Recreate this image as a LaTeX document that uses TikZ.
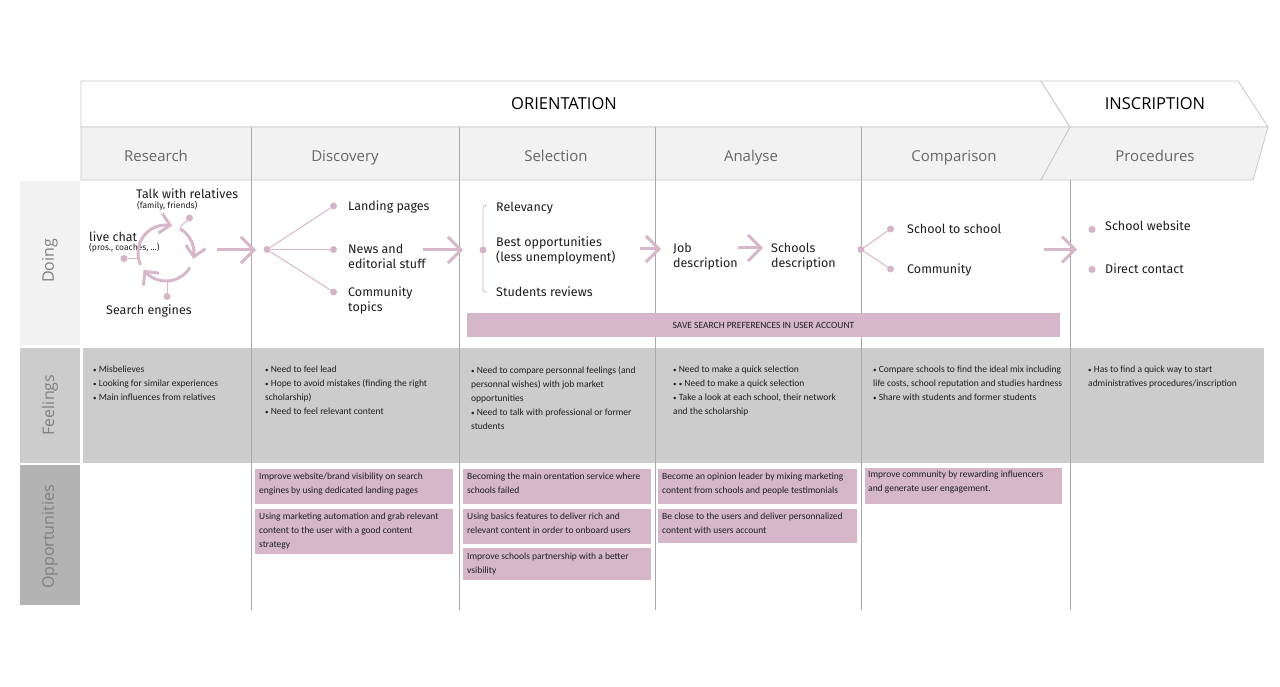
\documentclass[tikz,border=0pt]{standalone}
\usepackage{fontspec}
\setmainfont{Open Sans}
\newfontfamily\firafont{Fira Sans}
\newfontfamily\carlfont{Carlito}
\usetikzlibrary{arrows.meta}

\definecolor{pk}{HTML}{D7B8CB}
\definecolor{pkbox}{HTML}{D6B7CA}
\definecolor{pkdot}{HTML}{D4B4C8}
\definecolor{hdrfill}{HTML}{F2F2F2}
\definecolor{feelfill}{HTML}{CCCCCC}
\definecolor{oppfill}{HTML}{B3B3B3}
\definecolor{vline}{HTML}{A8A8A8}
\definecolor{hborder}{HTML}{C8C8C8}
\definecolor{lbltext}{HTML}{7F7F7F}
\definecolor{hdrtext}{HTML}{666666}
\definecolor{bodytext}{HTML}{1E1E1E}

\newcommand\feelbul{{\fontsize{7}{7}\selectfont •}}

\tikzset{
 hborderline/.style={draw=hborder, line width=0.8pt},
 hdrlabel/.style={font=\fontsize{15}{18}\selectfont, text=hdrtext, inner sep=0, anchor=base},
 toplabel/.style={font=\fontsize{16.5}{19}\selectfont, text=black, inner sep=0},
 rowlabel/.style={font=\fontsize{16}{19}\selectfont, text=lbltext, inner sep=0, rotate=90},
 doingtext/.style={font=\firafont\fontsize{12.5}{15}\selectfont, text=bodytext, inner sep=0, anchor=west, align=left},
 smalltext/.style={font=\firafont\fontsize{8.5}{9}\selectfont, text=bodytext, inner sep=0, anchor=west},
 feeltext/.style={font=\carlfont\fontsize{9.5}{14}\selectfont, text=bodytext, inner sep=0, anchor=north west, align=left},
 oppbox/.style={fill=pkbox, inner sep=0, anchor=north west},
 pdot/.style={circle, fill=pkdot, inner sep=0, minimum size=7pt},
 thinlink/.style={draw=pk, line width=1pt},
 bigarrow/.style={draw=pk, line width=3pt, -{Straight Barb[length=13pt, width=26pt]}},
 cyclearrow/.style={draw=pk, line width=3pt, -{Straight Barb[length=10pt, width=20pt]}},
 colline/.style={draw=vline, line width=0.8pt},
}

\begin{document}
\begin{tikzpicture}[x=1pt,y=-1pt]
\useasboundingbox (0,0) rectangle (1280,687);
\fill[white] (0,0) rectangle (1280,687);

% ---------- header ----------
\draw[hborderline, fill=white] (81,81) -- (1041,81) -- (1070,127) -- (81,127) -- cycle;
\draw[hborderline, fill=white] (1041,81) -- (1238,81) -- (1268,127) -- (1070,127) -- cycle;
\draw[hborderline, fill=hdrfill] (81,127) -- (1070,127) -- (1041,180) -- (81,180) -- cycle;
\draw[hborderline, fill=hdrfill] (1070,127) -- (1268,127) -- (1253,180) -- (1041,180) -- cycle;
\foreach \xx in {251,459,655,861} \draw[colline, draw=hborder!85!black] (\xx,127) -- (\xx,180);

\node[toplabel] (orient) at (564,104) {ORIENTATION};
\node[toplabel] (inscr) at (1155,104) {INSCRIPTION};
\node[hdrlabel] (hres) at (156,161.5) {Research};
\node[hdrlabel] (hdis) at (345,161.5) {Discovery};
\node[hdrlabel] (hsel) at (556,161.5) {Selection};
\node[hdrlabel] (hana) at (751,161.5) {Analyse};
\node[hdrlabel] (hcmp) at (954,161.5) {Comparison};
\node[hdrlabel] (hpro) at (1155,161.5) {Procedures};

% ---------- row backgrounds ----------
\fill[hdrfill] (20,181) rectangle (80,345);
\fill[feelfill] (20,348) rectangle (80,463);
\fill[feelfill] (83,348) rectangle (1264,463);
\fill[oppfill] (20,465) rectangle (80,605);
\node[rowlabel] (ldoing) at (50,261) {Doing};
\node[rowlabel] (lfeel) at (50,405) {Feelings};
\node[rowlabel] (lopp) at (50,537) {Opportunities};

% column lines
\foreach \xx in {251,459,655,861,1070} \draw[colline] (\xx,180) -- (\xx,610);

% ---------- Doing: research ----------
\node[doingtext] (talk) at (136,194) {Talk with relatives};
\node[smalltext] (talks) at (137,205.5) {(family, friends)};
\node[doingtext] (live) at (89,237) {live chat};
\node[smalltext] (lives) at (89,248) {(pros., coaches, ...)};
\node[doingtext] (search) at (106,311) {Search engines};

\node[pdot] (dtalk) at (189.5,218) {};
\node[pdot] (dlive) at (124,258.5) {};
\node[pdot] (dsearch) at (167,296.5) {};
\coordinate (stalk) at (180,227);
\coordinate (slive) at (138,258.5);
\coordinate (ssearch) at (167,281);
\draw[thinlink] (dtalk) -- (stalk);
\draw[thinlink] (dlive) -- (slive);
\draw[thinlink] (dsearch) -- (ssearch);

\draw[cyclearrow] plot[domain=155:283, samples=40] ({166+28*cos(\x)},{253+28*sin(\x)});
\draw[cyclearrow] plot[domain=300:372, samples=30] ({166+28*cos(\x)},{253+28*sin(\x)});
\draw[cyclearrow] plot[domain=31:143, samples=40] ({166+28*cos(\x)},{253+28*sin(\x)});

\coordinate (a1s) at (217,250); \coordinate (a1e) at (256,250);
\draw[bigarrow] (a1s) -- (a1e);

% ---------- Doing: discovery ----------
\node[pdot] (dd0) at (267,249.5) {};
\node[pdot] (dd1) at (333.5,206) {};
\node[pdot] (dd2) at (333.5,249.5) {};
\node[pdot] (dd3) at (333.5,292) {};
\draw[thinlink] (dd0) -- (dd1);
\draw[thinlink] (dd0) -- (dd2);
\draw[thinlink] (dd0) -- (dd3);
\node[doingtext] (land) at (348,206.5) {Landing pages};
\node[doingtext] (news) at (348,256.5) {News and\\editorial stuff};
\node[doingtext] (comm) at (348,300) {Community\\topics};

\coordinate (a2s) at (423,250); \coordinate (a2e) at (463,250);
\draw[bigarrow] (a2s) -- (a2e);

% ---------- Doing: selection ----------
\draw[thinlink, line width=0.8pt] (487,205) .. controls (484,205) and (483,206) .. (483,209) -- (483,289) .. controls (483,292) and (484,292) .. (487,292);
\node[pdot] (sd0) at (483,250) {};
\node[doingtext] (relev) at (496,208.5) {Relevancy};
\node[doingtext] (best) at (496,250.5) {Best opportunities\\(less unemployment)};
\node[doingtext] (stud) at (496,292) {Students reviews};

\coordinate (a3s) at (640,249); \coordinate (a3e) at (661,249);
\draw[bigarrow] (a3s) -- (a3e);

% ---------- Doing: analyse ----------
\node[doingtext] (job) at (673,257) {Job\\description};
\coordinate (a4s) at (738,248); \coordinate (a4e) at (763,248);
\draw[bigarrow] (a4s) -- (a4e);
\node[doingtext] (schools) at (771,257) {Schools\\description};

% ---------- Doing: comparison ----------
\node[pdot] (cd0) at (861,249.5) {};
\node[pdot] (cd1) at (890.5,229) {};
\node[pdot] (cd2) at (890.5,269) {};
\draw[thinlink] (cd0) -- (cd1);
\draw[thinlink] (cd0) -- (cd2);
\node[doingtext] (s2s) at (907,228.5) {School to school};
\node[doingtext] (ccomm) at (907,270) {Community};

\coordinate (a5s) at (1044,249.5); \coordinate (a5e) at (1077,249.5);
\draw[bigarrow] (a5s) -- (a5e);

% ---------- Doing: procedures ----------
\node[pdot] (pd1) at (1092,229.5) {};
\node[pdot] (pd2) at (1092,269.5) {};
\node[doingtext] (sweb) at (1105,225.5) {School website};
\node[doingtext] (dcont) at (1105,268.5) {Direct contact};

% save box
\node[fill=pkbox, minimum width=593pt, minimum height=24pt, inner sep=0, font=\carlfont\fontsize{9.5}{10}\selectfont, text=bodytext] (save) at (763.5,325) {SAVE SEARCH PREFERENCES IN USER ACCOUNT};

% ---------- Feelings ----------
\node[feeltext] (f1) at (93,366) {\feelbul\ Misbelieves\\\feelbul\ Looking for similar experiences\\\feelbul\ Main influences from relatives};
\node[feeltext] (f2) at (265,366) {\feelbul\ Need to feel lead\\\feelbul\ Hope to avoid mistakes (finding the right\\scholarship)\\\feelbul\ Need to feel relevant content};
\node[feeltext] (f3) at (471,366) {\feelbul\ Need to compare personnal feelings (and\\personnal wishes) with job market\\opportunities\\\feelbul\ Need to talk with professional or former\\students};
\node[feeltext] (f4) at (673,366) {\feelbul\ Need to make a quick selection\\\feelbul\ \feelbul\ Need to make a quick selection\\\feelbul\ Take a look at each school, their network\\and the scholarship};
\node[feeltext] (f5) at (873,366) {\feelbul\ Compare schools to find the ideal mix including\\life costs, school reputation and studies hardness\\\feelbul\ Share with students and former students};
\node[feeltext] (f6) at (1088,366) {\feelbul\ Has to find a quick way to start\\administratives procedures/inscription};

% ---------- Opportunities ----------
\node[oppbox, minimum width=198pt, minimum height=35pt] (ob1) at (255,469) {};
\node[oppbox, minimum width=198pt, minimum height=45pt] (ob2) at (255,509) {};
\node[oppbox, minimum width=188pt, minimum height=35pt] (ob3) at (463,469) {};
\node[oppbox, minimum width=188pt, minimum height=35pt] (ob4) at (463,509) {};
\node[oppbox, minimum width=188pt, minimum height=32pt] (ob5) at (463,548) {};
\node[oppbox, minimum width=199pt, minimum height=35pt] (ob6) at (658,469) {};
\node[oppbox, minimum width=199pt, minimum height=34pt] (ob7) at (658,509) {};
\node[oppbox, minimum width=197pt, minimum height=36pt] (ob8) at (865,468) {};

\node[feeltext] (ot1) at (259,473) {Improve website/brand visibility on search\\engines by using dedicated landing pages};
\node[feeltext] (ot2) at (259,513) {Using marketing automation and grab relevant\\content to the user with a good content\\strategy};
\node[feeltext] (ot3) at (467,473) {Becoming the main orentation service where\\schools failed};
\node[feeltext] (ot4) at (467,513) {Using basics features to deliver rich and\\relevant content in order to onboard users};
\node[feeltext] (ot5) at (467,553) {Improve schools partnership with a better\\vsibility};
\node[feeltext] (ot6) at (662,473) {Become an opinion leader by mixing marketing\\content from schools and people testimonials};
\node[feeltext] (ot7) at (662,513) {Be close to the users and deliver personnalized\\content with users account};
\node[feeltext] (ot8) at (868,471) {Improve community by rewarding influencers\\and generate user engagement.};

\end{tikzpicture}
\end{document}
